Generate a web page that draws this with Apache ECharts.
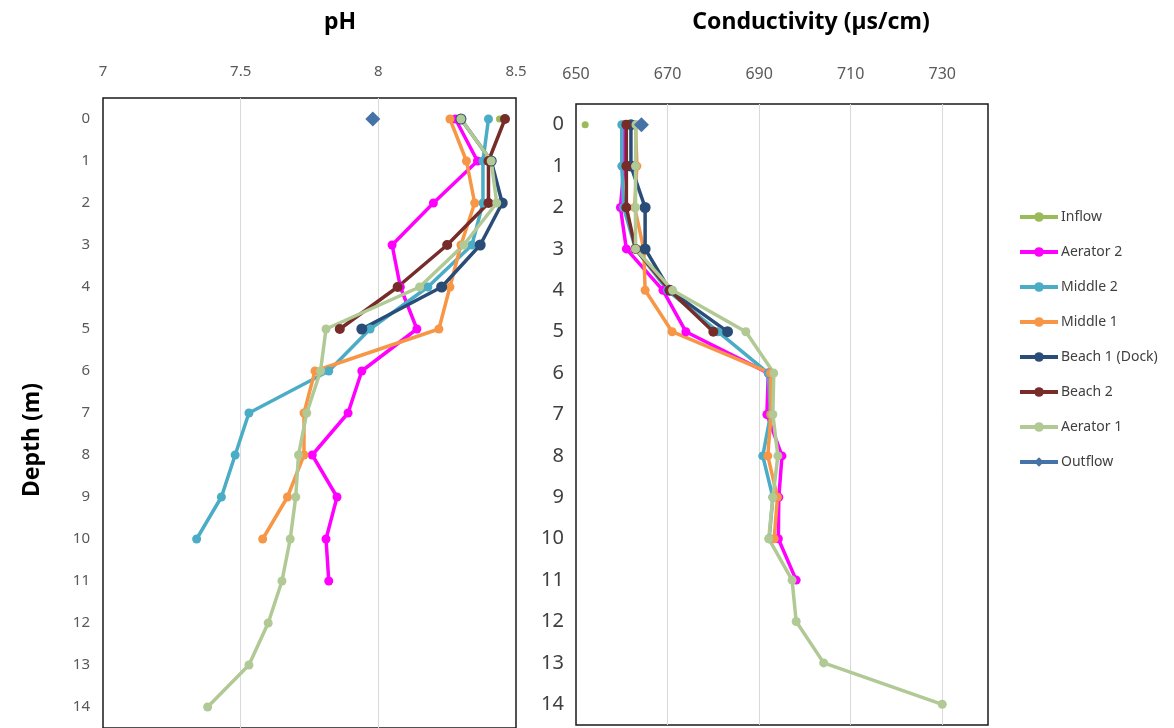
<!DOCTYPE html>
<html>
<head>
<meta charset="utf-8">
<style>html,body{margin:0;padding:0;background:#fff;}#c{width:1174px;height:728px;}</style>
<script src="https://cdn.jsdelivr.net/npm/echarts@6/dist/echarts.min.js"></script>
</head>
<body>
<div id="c"></div>
<script>
// Depth categories (m)
const depths = ['0','1','2','3','4','5','6','7','8','9','10','11','12','13','14'];
const seriesNames = ['Inflow','Aerator 2','Middle 2','Middle 1','Beach 1 (Dock)','Beach 2','Aerator 1','Outflow'];
const phTicks = [7, 7.5, 8, 8.5];
const condTicks = [650, 670, 690, 710, 730];

// pH by depth (index = depth in m)
const phInflow    = [8.44];
const phAerator2  = [8.28, 8.36, 8.20, 8.05, 8.08, 8.14, 7.94, 7.89, 7.76, 7.85, 7.81, 7.82];
const phMiddle2   = [8.40, 8.38, 8.38, 8.34, 8.18, 7.97, 7.82, 7.53, 7.48, 7.43, 7.34];
const phMiddle1   = [8.26, 8.32, 8.35, 8.30, 8.26, 8.22, 7.77, 7.73, 7.73, 7.67, 7.58];
const phBeach1    = [8.30, 8.41, 8.45, 8.37, 8.23, 7.94];
const phBeach2    = [8.46, 8.40, 8.40, 8.25, 8.07, 7.86];
const phAerator1  = [8.30, 8.41, 8.43, 8.31, 8.15, 7.81, 7.79, 7.74, 7.71, 7.70, 7.68, 7.65, 7.60, 7.53, 7.38];
const phOutflow   = [7.98];

// Conductivity (µs/cm) by depth
const cInflow   = [652];
const cAerator2 = [660.5, 660.5, 659.7, 661, 669, 674, 692, 691.7, 695, 694.3, 694.2, 698.1];
const cMiddle2  = [660, 660, 660.4, 663, 670, 681, 692, 692.5, 690.8, 693, 692.2];
const cMiddle1  = [663, 663.3, 662.8, 664.8, 665.1, 671, 692.5, 692.6, 691.9, 694, 693.3];
const cBeach1   = [662, 662, 665.1, 665.1, 670.5, 683.1];
const cBeach2   = [661, 661, 661, 663, 670.5, 680];
const cAerator1 = [663.1, 663, 663, 663, 671.1, 687.1, 693.2, 693, 694.1, 693, 692.1, 697.2, 698.1, 704.1, 730];
const cOutflow  = [664.3];

const phData = [phInflow, phAerator2, phMiddle2, phMiddle1, phBeach1, phBeach2, phAerator1, phOutflow];
const cData  = [cInflow, cAerator2, cMiddle2, cMiddle1, cBeach1, cBeach2, cAerator1, cOutflow];

const styles = [
  {color:'#9BBB59', symbol:'circle', size:7},
  {color:'#FF00FF', symbol:'circle', size:9},
  {color:'#4BACC6', symbol:'circle', size:9},
  {color:'#F79646', symbol:'circle', size:9},
  {color:'#2A4D77', symbol:'circle', size:11},
  {color:'#772C2A', symbol:'circle', size:10},
  {color:'#B1C994', symbol:'circle', size:9},
  {color:'#4572A7', symbol:'diamond', size:15}
];

const FONT = 'Noto Sans';
const series = [];
[phData, cData].forEach(function(set, gi){
  set.forEach(function(arr, i){
    const st = styles[i];
    series.push({
      name: seriesNames[i],
      type: 'line',
      xAxisIndex: gi, yAxisIndex: gi,
      data: arr,
      symbol: st.symbol,
      symbolSize: st.size,
      showAllSymbol: true,
      color: st.color,
      lineStyle: {width: 3.5, color: st.color},
      itemStyle: {color: st.color},
      animation: false
    });
  });
});

const chart = echarts.init(document.getElementById('c'));
chart.setOption({
  backgroundColor: '#fff',
  animation: false,
  title: [
    {text: 'pH', left: 335, top: 6, textAlign: 'center',
     textStyle: {fontFamily: FONT, fontWeight: 'bold', fontSize: 23, color: '#000'}},
    {text: 'Conductivity (µs/cm)', left: 806, top: 6, textAlign: 'center',
     textStyle: {fontFamily: FONT, fontWeight: 'bold', fontSize: 23, color: '#000'}}
  ],
  graphic: [{
    type: 'text', x: 32, y: 440, rotation: Math.PI / 2,
    style: {text: 'Depth (m)', fontFamily: FONT, fontWeight: 'bold', fontSize: 23,
            fill: '#000', align: 'center', verticalAlign: 'middle'}
  }],
  legend: {
    orient: 'vertical', left: 1013, top: 205,
    itemWidth: 38, itemHeight: 12, itemGap: 21,
    data: seriesNames,
    lineStyle: {width: 4},
    textStyle: {fontFamily: FONT, fontSize: 14, color: '#404040', padding: [0,0,0,-2]}
  },
  grid: [
    {left: 103, top: 98, width: 413, height: 634, show: true, borderColor: '#1a1a1a', borderWidth: 1.5, backgroundColor: 'transparent'},
    {left: 576, top: 104, width: 412, height: 621, show: true, borderColor: '#1a1a1a', borderWidth: 1.5, backgroundColor: 'transparent'}
  ],
  xAxis: [
    {type: 'value', gridIndex: 0, position: 'top', min: phTicks[0], max: phTicks[phTicks.length-1], interval: 0.5,
     axisLine: {show: false}, axisTick: {show: false},
     splitLine: {show: true, showMinLine: false, showMaxLine: false, lineStyle: {color: '#D9D9D9', width: 1}},
     axisLabel: {margin: 19, fontFamily: FONT, fontSize: 15, color: '#595959'}},
    {type: 'value', gridIndex: 1, position: 'top', min: condTicks[0], max: 740, interval: 20,
     axisLine: {show: false}, axisTick: {show: false},
     splitLine: {show: true, showMinLine: false, showMaxLine: false, lineStyle: {color: '#D9D9D9', width: 1}},
     axisLabel: {margin: 22, fontFamily: FONT, fontSize: 16, color: '#595959', showMaxLabel: false}}
  ],
  yAxis: [
    {type: 'category', gridIndex: 0, data: depths, inverse: true, boundaryGap: true,
     axisLine: {show: false}, axisTick: {show: false}, splitLine: {show: false},
     axisLabel: {interval: 0, margin: 13, fontFamily: FONT, fontSize: 15, color: '#595959'}},
    {type: 'category', gridIndex: 1, data: depths, inverse: true, boundaryGap: true,
     axisLine: {show: false}, axisTick: {show: false}, splitLine: {show: false},
     axisLabel: {interval: 0, margin: 12, fontFamily: FONT, fontSize: 20, color: '#404040'}}
  ],
  series: series
});
</script>
</body>
</html>
